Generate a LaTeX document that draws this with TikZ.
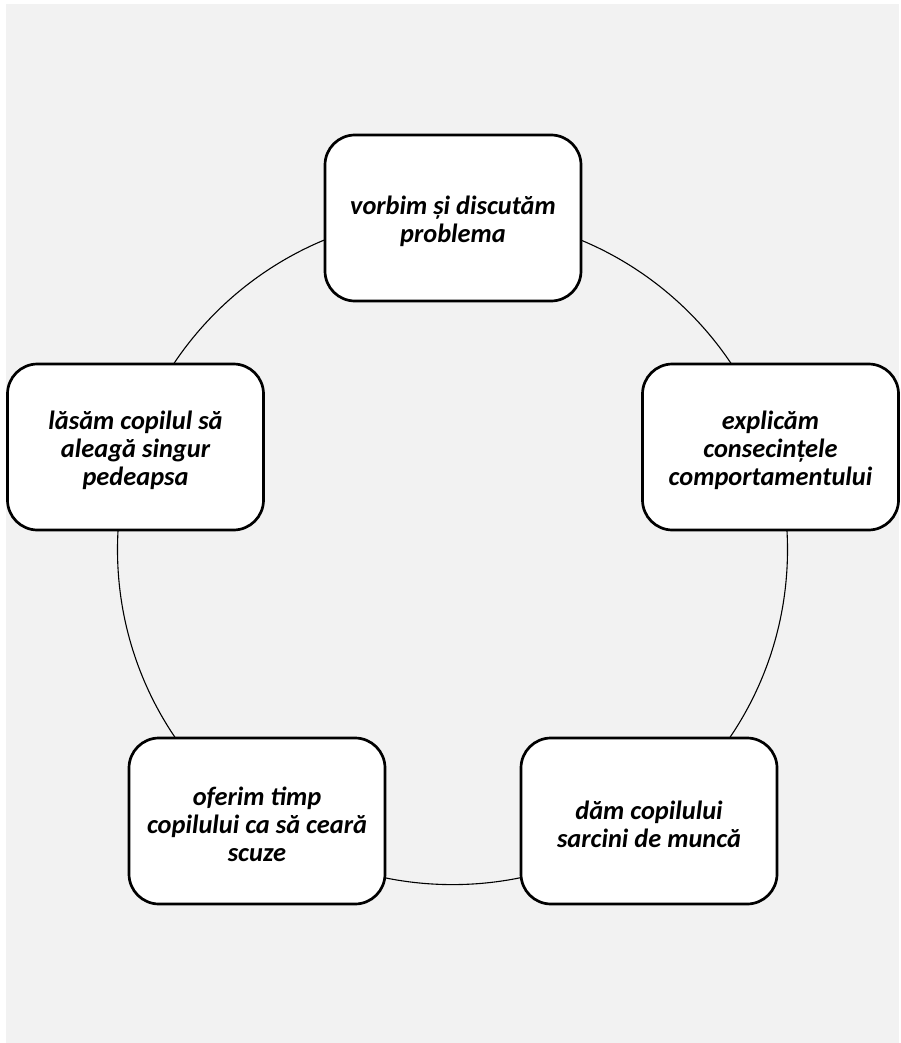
\documentclass[tikz,border=0pt]{standalone}
\usepackage{fontspec}
\setmainfont{Carlito}
\begin{document}
\begin{tikzpicture}[x=1pt, y=-1pt,
  cyclebox/.style={draw=black, line width=2.7pt, fill=white, rounded corners=30pt,
    minimum width=256pt, minimum height=166pt, inner sep=0pt},
  steptext/.style={align=center, inner sep=0pt,
    font=\fontsize{26.4}{28}\selectfont\bfseries\itshape},
  ring/.style={draw=black, line width=1.1pt}]
  \useasboundingbox (0,0) rectangle (901,1043);
  \fill[white] (0,0) rectangle (901,1043);
  \fill[fill={rgb,255:red,242;green,242;blue,242}] (6,4) rectangle (899,1043);

  % the ring behind the five steps
  \coordinate (ctr) at (452.5,549.6);
  \draw[ring] (ctr) circle (335pt);

  % rounded boxes on the ring
  \node[cyclebox] (talk)   at (453,218)   {};
  \node[cyclebox] (expl)   at (770.5,447) {};
  \node[cyclebox] (tasks)  at (649,821)   {};
  \node[cyclebox] (sorry)  at (257,821)   {};
  \node[cyclebox] (choose) at (135.5,447) {};

  % their texts, set a little below the centre
  \node[steptext] (talk-t)   at ([yshift=-3.5pt]talk.center)   {vorbim și discutăm\\problema};
  \node[steptext] (expl-t)   at ([yshift=-3.5pt]expl.center)   {explicăm\\consecințele\\comportamentului};
  \node[steptext] (tasks-t)  at ([yshift=-3.5pt]tasks.center)  {dăm copilului\\sarcini de muncă};
  \node[steptext] (sorry-t)  at ([yshift=-3.5pt]sorry.center)  {oferim timp\\copilului ca să ceară\\scuze};
  \node[steptext] (choose-t) at ([yshift=-3.5pt]choose.center) {lăsăm copilul să\\aleagă singur\\pedeapsa};
\end{tikzpicture}
\end{document}
